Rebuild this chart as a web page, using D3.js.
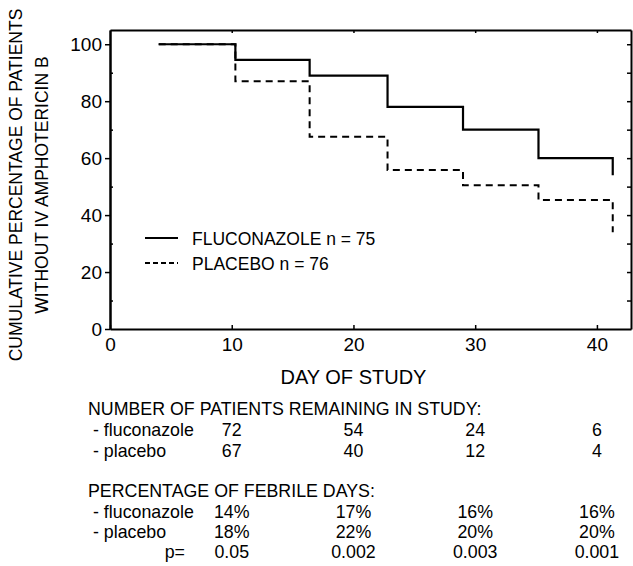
<!DOCTYPE html>
<html>
<head>
<meta charset="utf-8">
<script src="https://cdn.jsdelivr.net/npm/d3@7/dist/d3.min.js"></script>
<style>
	body { margin: 0; background: #ffffff; }
	svg text { font-family: "Liberation Sans", Arial, sans-serif; fill: #000000; }
</style>
</head>
<body>
<div id="chart"></div>
<script>
/*
 Step chart: patients without IV amphotericin B
 plus the little table of numbers under the x axis
*/

// day of each step (same days for both groups) and the level after it
var stepDays = [4, 10.3, 16.4, 22.8, 29, 35.2, 41.3];
var fluconazole = [100, 94.5, 89, 78, 70, 60, 54];
var placebo = [100, 87, 67.5, 55.8, 50.5, 45.3, 34];

var xTicks = [0, 10, 20, 30, 40];
var yTicks = [0, 20, 40, 60, 80, 100];

// table under the chart, one column per day in tableDays
var tableDays = [10, 20, 30, 40];
var remainFlu = [72, 54, 24, 6];
var remainPla = [67, 40, 12, 4];
var febrileFlu = ["14%", "17%", "16%", "16%"];
var febrilePla = ["18%", "22%", "20%", "20%"];
var pValues = ["0.05", "0.002", "0.003", "0.001"];

var width = 633;
var height = 566;
var margin = {top: 30, right: 2, bottom: 237, left: 110};

var svg = d3.select("#chart").append("svg")
	.attr("width", width)
	.attr("height", height);

var x = d3.scaleLinear()
	.domain([0, 42.8])
	.range([margin.left, width - margin.right]);
var y = d3.scaleLinear()
	.domain([0, 105])
	.range([height - margin.bottom, margin.top]);

var x0 = x.range()[0], x1 = x.range()[1];
var yBottom = y.range()[0], yTop = y.range()[1];

/*
 ####################
 axes and frame
*/
var axes = svg.append("g").attr("class", "axes");

axes.append("g")
	.attr("class", "x_axis")
	.attr("transform", "translate(0," + yBottom + ")")
	.call(d3.axisBottom(x)
		.tickValues(xTicks)
		.tickSizeInner(-4)
		.tickSizeOuter(0)
		.tickPadding(9)
		.tickFormat(d3.format("d")));

axes.append("g")
	.attr("class", "y_axis")
	.attr("transform", "translate(" + x0 + ",0)")
	.call(d3.axisLeft(y)
		.tickValues(yTicks)
		.tickSizeInner(5)
		.tickSizeOuter(0)
		.tickPadding(3)
		.tickFormat(d3.format("d")));

// minor ticks on the left, pointing in
axes.append("g")
	.attr("class", "y_minor")
	.attr("transform", "translate(" + x0 + ",0)")
	.call(d3.axisRight(y)
		.tickValues([10, 30, 50, 70, 90])
		.tickSizeInner(3)
		.tickSizeOuter(0)
		.tickFormat(""));

// right side of the frame, ticks every 10 pointing in
axes.append("g")
	.attr("class", "y_right")
	.attr("transform", "translate(" + x1 + ",0)")
	.call(d3.axisLeft(y)
		.tickValues(d3.range(10, 101, 10))
		.tickSizeInner(4)
		.tickSizeOuter(0)
		.tickFormat(""));

// top of the frame
axes.append("g")
	.attr("class", "x_top")
	.attr("transform", "translate(0," + yTop + ")")
	.call(d3.axisBottom(x)
		.tickValues(tableDays)
		.tickSizeInner(3)
		.tickSizeOuter(0)
		.tickFormat(""));

axes.selectAll(".domain")
	.attr("stroke", "#000")
	.attr("stroke-width", 2);
axes.selectAll(".tick line")
	.attr("stroke", "#000")
	.attr("stroke-width", 1.5);
axes.selectAll(".x_axis text, .y_axis text")
	.attr("font-size", "19px")
	.attr("fill", "#000");

/*
 ####################
 the two step lines
*/
var stepLine = d3.line()
	.x(function(d, i) { return x(stepDays[i]); })
	.y(function(d) { return y(d); })
	.curve(d3.curveStepAfter);

var lines = svg.append("g").attr("class", "line_g");
lines.append("path")
	.datum(placebo)
	.attr("fill", "none")
	.attr("stroke", "#000")
	.attr("stroke-width", 2)
	.attr("stroke-dasharray", "7,5")
	.attr("d", stepLine);
lines.append("path")
	.datum(fluconazole)
	.attr("fill", "none")
	.attr("stroke", "#000")
	.attr("stroke-width", 2.2)
	.attr("d", stepLine);

/*
 ####################
 legend
*/
var legend = svg.append("g").attr("class", "legend");
var legendItems = [
	{label: "FLUCONAZOLE n = 75", dash: null},
	{label: "PLACEBO n = 76", dash: "5,3"}
];
legendItems.forEach(function(item, i) {
	var ly = 238 + i * 25;
	legend.append("line")
		.attr("x1", 145).attr("x2", 178)
		.attr("y1", ly).attr("y2", ly)
		.attr("stroke", "#000")
		.attr("stroke-width", 2)
		.attr("stroke-dasharray", item.dash);
	legend.append("text")
		.attr("x", 192)
		.attr("y", ly + 7)
		.attr("font-size", "17.5px")
		.text(item.label);
});

/*
 ####################
 axis titles
*/
svg.append("text")
	.attr("x", x(20))
	.attr("y", 384)
	.attr("text-anchor", "middle")
	.attr("font-size", "20px")
	.text("DAY OF STUDY");

var yTitle = ["CUMULATIVE PERCENTAGE OF PATIENTS", "WITHOUT IV AMPHOTERICIN B"];
yTitle.forEach(function(t, i) {
	svg.append("text")
		.attr("transform", "translate(" + (22 + i * 26) + ",185) rotate(-90)")
		.attr("text-anchor", "middle")
		.attr("font-size", "17.5px")
		.text(t);
});

/*
 ####################
 table under the chart
*/
var table = svg.append("g").attr("class", "table");
var tableFont = "17.8px";

function tableRow(label, values, baseline) {
	table.append("text")
		.attr("x", 93)
		.attr("y", baseline)
		.attr("font-size", tableFont)
		.text(label);
	table.selectAll(null)
		.data(values)
		.enter()
		.append("text")
		.attr("x", function(d, i) { return x(tableDays[i]); })
		.attr("y", baseline)
		.attr("text-anchor", "middle")
		.attr("font-size", tableFont)
		.text(function(d) { return d; });
}

table.append("text")
	.attr("x", 88).attr("y", 415)
	.attr("font-size", tableFont)
	.text("NUMBER OF PATIENTS REMAINING IN STUDY:");
tableRow("- fluconazole", remainFlu, 436);
tableRow("- placebo", remainPla, 457);

table.append("text")
	.attr("x", 88).attr("y", 497)
	.attr("font-size", tableFont)
	.text("PERCENTAGE OF FEBRILE DAYS:");
tableRow("- fluconazole", febrileFlu, 518);
tableRow("- placebo", febrilePla, 538);
tableRow("", pValues, 558);
table.append("text")
	.attr("x", 185).attr("y", 558)
	.attr("text-anchor", "end")
	.attr("font-size", tableFont)
	.text("p=");
</script>
</body>
</html>
